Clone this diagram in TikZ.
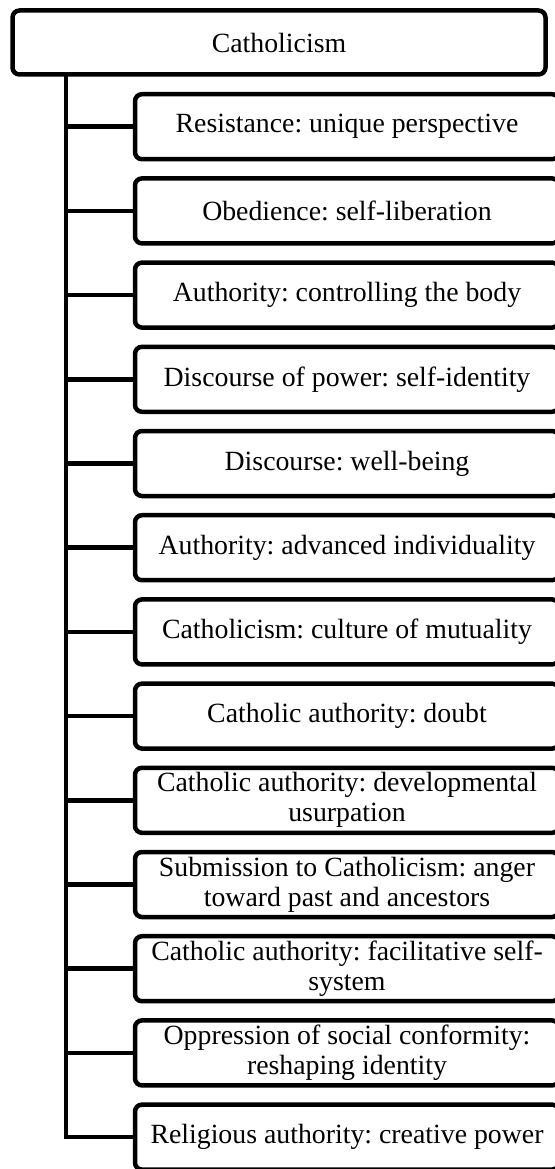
\documentclass[tikz,border=0pt]{standalone}
\usepackage{fontspec}
\setmainfont{Liberation Serif}
\frenchspacing
\begin{document}
\begin{tikzpicture}[x=1pt,y=-1pt,
  box/.style={draw=black, line width=4.5pt, rounded corners=7pt, fill=white,
    align=center, font=\fontsize{27.8}{30}\selectfont, inner sep=0pt},
  rootbox/.style={box, minimum width=533pt, minimum height=64pt},
  leafbox/.style={box, minimum width=424pt, minimum height=65pt},
  link/.style={line width=4.5pt, line join=miter}]
\useasboundingbox (0,0) rectangle (554,1169);

\node[rootbox] (root) at (279,42.5) {Catholicism};

\foreach \txt [count=\i] in {
  {Resistance: unique perspective},
  {Obedience: self-liberation},
  {Authority: controlling the body},
  {Discourse of power: self-identity},
  {Discourse: well-being},
  {Authority: advanced individuality},
  {Catholicism: culture of mutuality},
  {Catholic authority: doubt},
  {Catholic authority: developmental\\usurpation},
  {Submission to Catholicism: anger\\toward past and ancestors},
  {Catholic authority: facilitative self-\\system},
  {Oppression of social conformity:\\reshaping identity},
  {Religious authority: creative power}}
{
  \node[leafbox] (c\i) at (347,{126.7+(\i-1)*84.2}) {\txt};
}

% trunk from the root down to the last item
\coordinate (trunk) at (66,74.5);
\draw[link] (trunk) |- (c13.west);
\foreach \i in {1,...,12}{
  \draw[link] (c\i.west -| trunk) -- (c\i.west);
}
\end{tikzpicture}
\end{document}
